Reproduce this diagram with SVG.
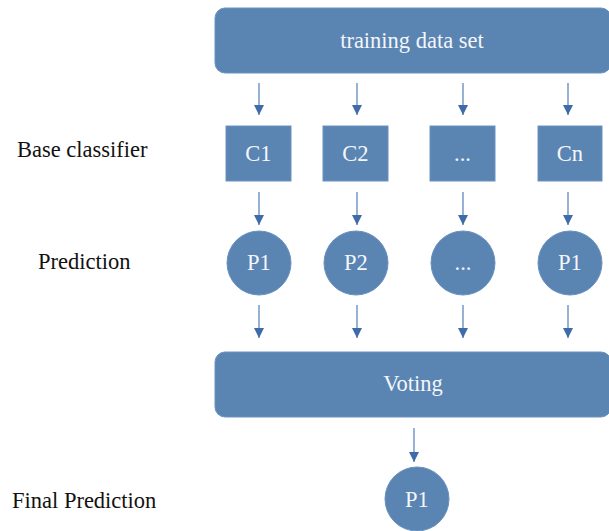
<svg xmlns="http://www.w3.org/2000/svg" width="609" height="531" viewBox="0 0 609 531">
<defs>
<marker id="ah" viewBox="0 0 10 10" refX="10" refY="5" markerWidth="10" markerHeight="10" markerUnits="userSpaceOnUse" orient="auto">
<path d="M0,0 L10,5 L0,10 z" fill="#3f6ca8"/>
</marker>
</defs>
<style>
.n{fill:#5a84b2;stroke:#6a92c0;stroke-width:1}
.t{font-family:"Liberation Serif","Times New Roman",serif;font-size:22.5px;fill:#f4f6fa;text-anchor:middle}
.l{font-family:"Liberation Serif","Times New Roman",serif;font-size:22.5px;fill:#111}
.c line{stroke:#5e88bd;stroke-width:1.3;marker-end:url(#ah)}
</style>
<rect width="609" height="531" fill="#fff"/>
<g id="train"><rect class="n" x="215" y="8" width="396" height="65" rx="10"/><text class="t" x="412" y="48">training data set</text></g>
<g id="c1"><rect class="n" x="226" y="126" width="65" height="55"/><text class="t" x="258.5" y="161">C1</text></g>
<g id="c2"><rect class="n" x="323" y="126" width="65" height="55"/><text class="t" x="355.5" y="161">C2</text></g>
<g id="c3"><rect class="n" x="430" y="126" width="65" height="55"/><text class="t" x="462.5" y="161">...</text></g>
<g id="cn"><rect class="n" x="538" y="126" width="64" height="55"/><text class="t" x="570" y="161">Cn</text></g>
<g id="p1"><circle class="n" cx="259" cy="263" r="32"/><text class="t" x="259" y="270">P1</text></g>
<g id="p2"><circle class="n" cx="356" cy="263" r="32"/><text class="t" x="356" y="270">P2</text></g>
<g id="p3"><circle class="n" cx="463" cy="263" r="32"/><text class="t" x="463" y="270">...</text></g>
<g id="pn"><circle class="n" cx="570" cy="263" r="32"/><text class="t" x="570" y="270">P1</text></g>
<g id="voting"><rect class="n" x="215" y="352" width="396" height="65" rx="10"/><text class="t" x="413" y="391">Voting</text></g>
<g id="final"><circle class="n" cx="417" cy="499" r="32"/><text class="t" x="417" y="507">P1</text></g>
<g id="labels">
<text class="l" x="17" y="157">Base classifier</text>
<text class="l" x="38" y="269">Prediction</text>
<text class="l" x="12" y="508">Final Prediction</text>
</g>
<g class="c" id="connectors">
<line x1="259" y1="83" x2="259" y2="115"/>
<line x1="357" y1="83" x2="357" y2="115"/>
<line x1="463" y1="83" x2="463" y2="115"/>
<line x1="568" y1="83" x2="568" y2="115"/>
<line x1="259" y1="192" x2="259" y2="225"/>
<line x1="357" y1="192" x2="357" y2="225"/>
<line x1="463" y1="192" x2="463" y2="225"/>
<line x1="568" y1="192" x2="568" y2="225"/>
<line x1="259" y1="305" x2="259" y2="338"/>
<line x1="357" y1="305" x2="357" y2="338"/>
<line x1="463" y1="305" x2="463" y2="338"/>
<line x1="568" y1="305" x2="568" y2="338"/>
<line x1="414" y1="428" x2="414" y2="462"/>
</g>
</svg>
